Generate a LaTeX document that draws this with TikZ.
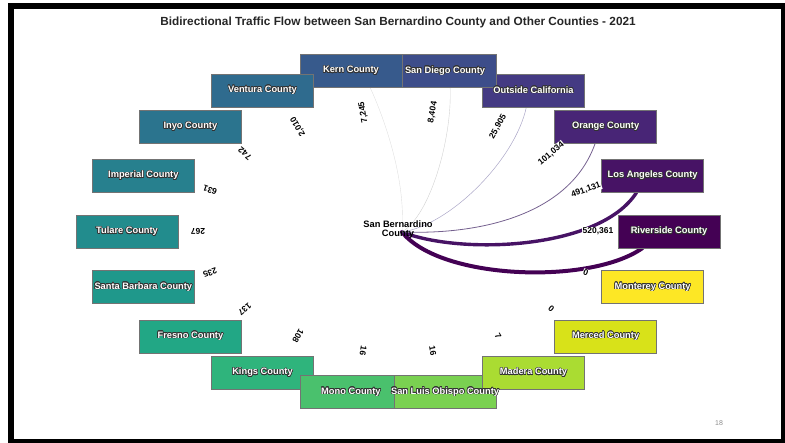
\documentclass[tikz,border=0pt]{standalone}
\usepackage{fontspec}
\setmainfont{Liberation Sans}
\usepackage[copies]{contour}
\contourlength{0.55pt}

\definecolor{vir0}{HTML}{440154}
\definecolor{vir1}{HTML}{471365}
\definecolor{vir2}{HTML}{482576}
\definecolor{vir3}{HTML}{443A83}
\definecolor{vir4}{HTML}{3D4D8A}
\definecolor{vir5}{HTML}{375A8C}
\definecolor{vir6}{HTML}{2F6B8E}
\definecolor{vir7}{HTML}{2B748E}
\definecolor{vir8}{HTML}{27808E}
\definecolor{vir9}{HTML}{228C8D}
\definecolor{vir10}{HTML}{1F988B}
\definecolor{vir11}{HTML}{22A785}
\definecolor{vir12}{HTML}{2FB47C}
\definecolor{vir13}{HTML}{4AC16D}
\definecolor{vir14}{HTML}{7AD151}
\definecolor{vir15}{HTML}{AADC32}
\definecolor{vir16}{HTML}{D8E219}
\definecolor{vir17}{HTML}{FDE725}

\pgfdeclarelayer{background}
\pgfsetlayers{background,main}

\tikzset{
  county/.style={draw=black!55, line width=0.5pt, minimum width=102pt, minimum height=33pt, inner sep=0pt},
  countytxt/.style={text=white, font=\bfseries\fontsize{9.3}{10}\selectfont, inner sep=0pt},
  flowlbl/.style={fill=white, inner sep=0.8pt, font=\bfseries\fontsize{8.5}{9}\selectfont},
  chord/.style={line cap=round},
}

\begin{document}
\begin{tikzpicture}[x=1pt,y=-1pt]
  \useasboundingbox (0,0) rectangle (785,443);
  \draw[line width=6pt] (11,6) rectangle (784,442.5);

  \node[font=\bfseries\fontsize{11.8}{13}\selectfont, text=black!85] (title) at (398,22)
    {Bidirectional Traffic Flow between San Bernardino County and Other Counties - 2021};

  \coordinate (hub) at (402,232);

  % county boxes round the ellipse
  \foreach \a/\nm/\col in {0/riv/vir0, 20/la/vir1, 40/ora/vir2, 60/outca/vir3, 80/sd/vir4,
      100/kern/vir5, 120/ven/vir6, 140/inyo/vir7, 160/imp/vir8, 180/tul/vir9,
      200/sbar/vir10, 220/fres/vir11, 240/kings/vir12, 260/mono/vir13, 280/slo/vir14,
      300/mad/vir15, 320/merc/vir16, 340/mont/vir17}
    \node[county, fill=\col] (\nm) at ({398+271*cos(\a)},{231.5-163*sin(\a)}) {};

  \foreach \nm/\txt in {riv/Riverside County, la/Los Angeles County, ora/Orange County,
      outca/Outside California, sd/San Diego County, kern/Kern County, ven/Ventura County,
      inyo/Inyo County, imp/Imperial County, tul/Tulare County, sbar/Santa Barbara County,
      fres/Fresno County, kings/Kings County, mono/Mono County, slo/San Luis Obispo County,
      mad/Madera County, merc/Merced County, mont/Monterey County}
    \node[countytxt] (\nm-t) at (\nm) {\contour{black!80}{\txt}};

  % flows
  \begin{pgfonlayer}{background}
    \draw[chord, vir0, line width=4pt] (hub) .. controls (440,280) and (590,285) .. (riv.212);
    \draw[chord, vir1, line width=3.4pt] (hub) .. controls (460,255) and (600,250) .. (la.226);
    \draw[chord, vir2!80!black!70, line width=0.8pt] (hub) .. controls (480,235) and (570,215) .. (ora.238);
    \draw[chord, vir3!45, line width=0.5pt] (hub) .. controls (450,225) and (515,160) .. (outca.247);
    \draw[chord, black!18, line width=0.4pt] (hub) .. controls (430,215) and (452,140) .. (sd.287);
    \draw[chord, black!12, line width=0.4pt] (hub) .. controls (406,180) and (385,120) .. (kern.319);
  \end{pgfonlayer}

  \foreach \a/\nm/\num in {0/riv/{520,361}, 20/la/{491,131}, 40/ora/{101,034}, 60/outca/{25,905},
      80/sd/{8,404}, 100/kern/{7,245}, 120/ven/{2,010}, 140/inyo/742, 160/imp/631, 180/tul/267,
      200/sbar/235, 220/fres/137, 240/kings/108, 260/mono/16, 280/slo/16, 300/mad/7,
      320/merc/0, 340/mont/0}
    \node[flowlbl, rotate=\a] (\nm-n) at ({398+200*cos(\a)},{231.5-121*sin(\a)}) {\num};

  \node[font=\bfseries\fontsize{9.3}{9.5}\selectfont, align=center, inner sep=0pt] (sbc) at (398,229.5)
    {San Bernardino\\County};

  \node[text=black!45, font=\fontsize{7}{8}\selectfont] (pgnum) at (719,423) {18};
\end{tikzpicture}
\end{document}
